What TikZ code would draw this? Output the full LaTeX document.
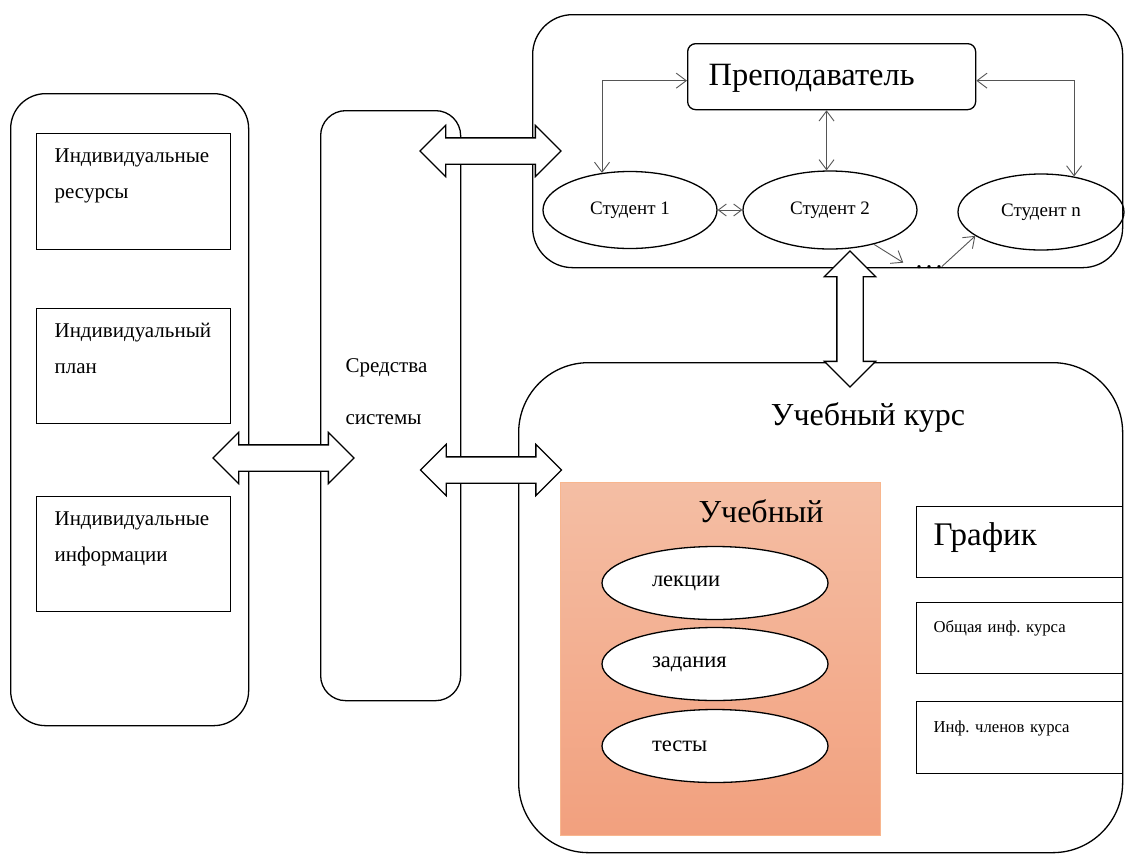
\documentclass[tikz,border=0pt]{standalone}
\usepackage{fontspec}
\setmainfont{Liberation Serif}
\usetikzlibrary{shapes.geometric,shapes.arrows,arrows.meta}
\frenchspacing

\definecolor{matTop}{RGB}{244,190,164}
\definecolor{matBot}{RGB}{242,160,126}
\definecolor{matLine}{RGB}{248,182,142}
\definecolor{linkgray}{RGB}{85,85,85}

\tikzset{
  >={Straight Barb[length=10pt,width=15pt]},
  outer/.style={draw, line width=1.3pt, anchor=north west, inner sep=0pt},
  ibox/.style={draw, line width=1.2pt, anchor=north west, inner xsep=18pt, inner ysep=0pt,
    text width=158pt, align=left, font=\fontsize{21}{36}\selectfont,
    text height=29pt, text depth=87pt},
  rbox/.style={draw, line width=1.2pt, anchor=north west, inner xsep=17pt, inner ysep=0pt,
    text width=172pt, align=left},
  student/.style={ellipse, draw, line width=1.3pt, inner sep=0pt, minimum width=174pt,
    minimum height=77pt, font=\fontsize{19}{22}\selectfont},
  part/.style={ellipse, draw, fill=white, line width=1.3pt, inner sep=0pt, minimum width=226pt,
    minimum height=73pt, text width=126pt, align=left, font=\fontsize{22.5}{26}\selectfont},
  fat/.style={double arrow, draw, fill=white, line width=1.3pt, inner xsep=0pt, inner ysep=12.5pt,
    minimum height=141pt, minimum width=50pt, double arrow head extend=12.5pt,
    double arrow head indent=0pt},
  link/.style={draw=linkgray, line width=0.9pt}
}

\begin{document}
\begin{tikzpicture}[x=1pt,y=-1pt]
  \useasboundingbox (0,0) rectangle (1125,855);
  \fill[white] (0,0) rectangle (1125,855);

  % left column: the student's own data
  \node[outer, rounded corners=35pt, minimum width=238pt, minimum height=632pt] (studbox) at (10,93) {};
  \node[ibox] (res) at (36,133) {Индивидуальные\\ресурсы};
  \node[ibox, text depth=86pt] (plan) at (36,308) {Индивидуальный\\план};
  \node[ibox, text depth=86pt] (info) at (36,496) {Индивидуальные\\информации};

  % middle column
  \node[draw, line width=1.3pt, rounded corners=25pt, anchor=north west, inner xsep=25pt, inner ysep=0pt,
    text width=90pt, align=left, text height=262pt, text depth=328pt,
    font=\fontsize{21}{52}\selectfont] (sysbox) at (320,110) {Средства\\системы};

  % top right: teacher and students
  \node[outer, rounded corners=40pt, minimum width=590pt, minimum height=253pt] (group) at (532,14) {};
  \node[draw, line width=1.3pt, rounded corners=8pt, anchor=north west, inner xsep=21pt, inner ysep=0pt,
    text width=246pt, align=left, text height=42pt, text depth=24pt,
    font=\fontsize{32.5}{38}\selectfont] (teacher) at (687,43) {Преподаватель};
  \node[student] (s1) at (630,210) {Студент 1};
  \node[student, minimum height=78pt] (s2) at (830,210) {Студент 2};
  \node[student, minimum width=166pt, minimum height=76pt] (sn) at (1041,212) {Студент n};
  \node[font=\fontsize{20}{22}\selectfont\bfseries, inner sep=0pt, anchor=base] (dots) at (929,268) {.\hspace{5pt}.\hspace{5pt}.};

  \draw[link, <->] (s1.127) |- ([yshift=-4pt]teacher.west);
  \draw[link, <->] ([yshift=-4pt]teacher.east) -| (sn.47);
  \draw[link, <->] (teacher.south -| s2.95) -- (s2.95);
  \draw[link, {Straight Barb[length=8pt,width=12pt]}-{Straight Barb[length=8pt,width=12pt]}] (s1.east) -- (s2.west);
  \draw[link, ->] (s2.-38) -- ([xshift=-13pt,yshift=4pt]dots.west);
  \draw[link, ->] (dots.east) -- (sn.200);

  % bottom right: the course
  \node[outer, rounded corners=70pt, minimum width=604pt, minimum height=490pt] (course) at (518,362) {};
  \node[font=\fontsize{32}{38}\selectfont, inner sep=0pt, anchor=base] (coursetitle) at (868,425) {Учебный курс};
  \node[draw=matLine, line width=1pt, top color=matTop, bottom color=matBot, anchor=north west,
    inner xsep=57pt, inner ysep=0pt, text width=206pt, align=right, text height=40pt, text depth=313pt,
    font=\fontsize{32}{38}\selectfont] (mat) at (560,482) {Учебный};
  \node[part] (lect) at (715,583) {лекции};
  \node[part] (task) at (715,664) {задания};
  \node[part] (test) at (715,746) {тесты};

  \node[rbox, font=\fontsize{33}{38}\selectfont, text height=39pt, text depth=32pt] (plot) at (916,506) {График};
  \node[rbox, font=\fontsize{16.7}{20}\selectfont, text height=30pt, text depth=41pt] (gen) at (916,602) {Общая инф. курса};
  \node[rbox, font=\fontsize{16.7}{20}\selectfont, text height=31pt, text depth=41pt] (mem) at (916,701) {Инф. членов курса};

  % wide arrows
  \node[fat] (arrL) at (283.5,458) {};
  \node[fat] (arrT) at (490.5,151) {};
  \node[fat] (arrB) at (491,470) {};
  \node[fat, rotate=90, minimum height=136pt] (arrV) at (850,319) {};

\end{tikzpicture}
\end{document}
